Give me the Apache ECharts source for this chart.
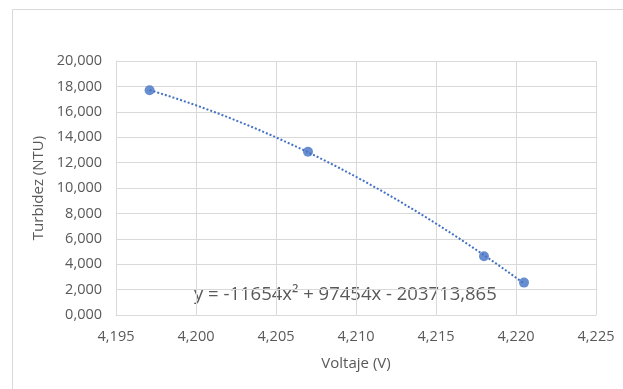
<!DOCTYPE html>
<html>
<head>
<meta charset="utf-8">
<script src="https://cdn.jsdelivr.net/npm/echarts@6/dist/echarts.min.js"></script>
<style>
  html, body { margin: 0; padding: 0; background: #fff; }
  #chart { width: 623px; height: 389px; }
</style>
</head>
<body>
<div id="chart"></div>
<script>
// Measured voltage (V) and turbidity (NTU)
const voltage = [4.1971, 4.2070, 4.2180, 4.2205];
const turbidity = [17.70, 12.85, 4.62, 2.55];
const equationText = 'y = -11654x\u00B2 + 97454x - 203713,865';

// Least-squares quadratic fit of the measurements (polynomial trendline, order 2)
function quadFit(xs, ys) {
  const x0 = xs.reduce((a, b) => a + b, 0) / xs.length; // centre for numerical stability
  let s = [0, 0, 0, 0, 0], t = [0, 0, 0];
  xs.forEach((x, i) => {
    const u = x - x0;
    for (let k = 0; k <= 4; k++) s[k] += Math.pow(u, k);
    for (let k = 0; k <= 2; k++) t[k] += ys[i] * Math.pow(u, k);
  });
  const M = [[s[0], s[1], s[2], t[0]], [s[1], s[2], s[3], t[1]], [s[2], s[3], s[4], t[2]]];
  for (let i = 0; i < 3; i++) {
    for (let j = i + 1; j < 3; j++) {
      const f = M[j][i] / M[i][i];
      for (let k = i; k < 4; k++) M[j][k] -= f * M[i][k];
    }
  }
  const c = [0, 0, 0];
  for (let i = 2; i >= 0; i--) {
    let v = M[i][3];
    for (let k = i + 1; k < 3; k++) v -= M[i][k] * c[k];
    c[i] = v / M[i][i];
  }
  return x => { const u = x - x0; return c[0] + c[1] * u + c[2] * u * u; };
}

const fit = quadFit(voltage, turbidity);
const trend = [];
const xStart = voltage[0], xEnd = voltage[voltage.length - 1];
for (let i = 0; i <= 80; i++) {
  const x = xStart + (xEnd - xStart) * i / 80;
  trend.push([x, fit(x)]);
}

const comma = (v, d) => v.toFixed(d).replace('.', ',');
const textColor = '#595959';
const gridColor = '#d9d9d9';
const font = 'Open Sans';

const chart = echarts.init(document.getElementById('chart'));
chart.setOption({
  animation: false,
  backgroundColor: '#fff',
  grid: { left: 116, right: 27, top: 61, bottom: 74, containLabel: false },
  xAxis: {
    type: 'value', min: 4.195, max: 4.225, interval: 0.005,
    name: 'Voltaje (V)', nameLocation: 'middle', nameGap: 41,
    nameTextStyle: { color: textColor, fontSize: 15, fontFamily: font },
    axisLine: { show: true, lineStyle: { color: gridColor } },
    axisTick: { show: false },
    axisLabel: { color: textColor, fontSize: 14.5, fontFamily: font, margin: 14,
                 formatter: v => comma(v, 3) },
    splitLine: { show: true, lineStyle: { color: gridColor, width: 1 } }
  },
  yAxis: {
    type: 'value', min: 0, max: 20, interval: 2,
    name: 'Turbidez (NTU)', nameLocation: 'middle', nameGap: 63,
    nameTextStyle: { color: textColor, fontSize: 15, fontFamily: font },
    axisLine: { show: true, lineStyle: { color: gridColor } },
    axisTick: { show: false },
    axisLabel: { color: textColor, fontSize: 14.5, fontFamily: font, margin: 14,
                 formatter: v => comma(v, 3) },
    splitLine: { show: true, lineStyle: { color: gridColor, width: 1 } }
  },
  series: [
    {
      type: 'line', data: trend, showSymbol: false, smooth: false,
      lineStyle: { color: '#4472C4', width: 2, type: 'dotted' },
      z: 2
    },
    {
      type: 'scatter', data: voltage.map((x, i) => [x, turbidity[i]]),
      symbol: 'circle', symbolSize: 10,
      itemStyle: { color: '#4472C4' },
      z: 3
    }
  ],
  graphic: [
    { type: 'rect', left: 10, top: 7, shape: { width: 640, height: 420 },
      style: { fill: 'none', stroke: gridColor, lineWidth: 1 }, silent: true },
    { type: 'text', left: 194, top: 285,
      style: { text: equationText, fill: textColor, fontSize: 18.5, fontFamily: font } }
  ]
});
</script>
</body>
</html>
